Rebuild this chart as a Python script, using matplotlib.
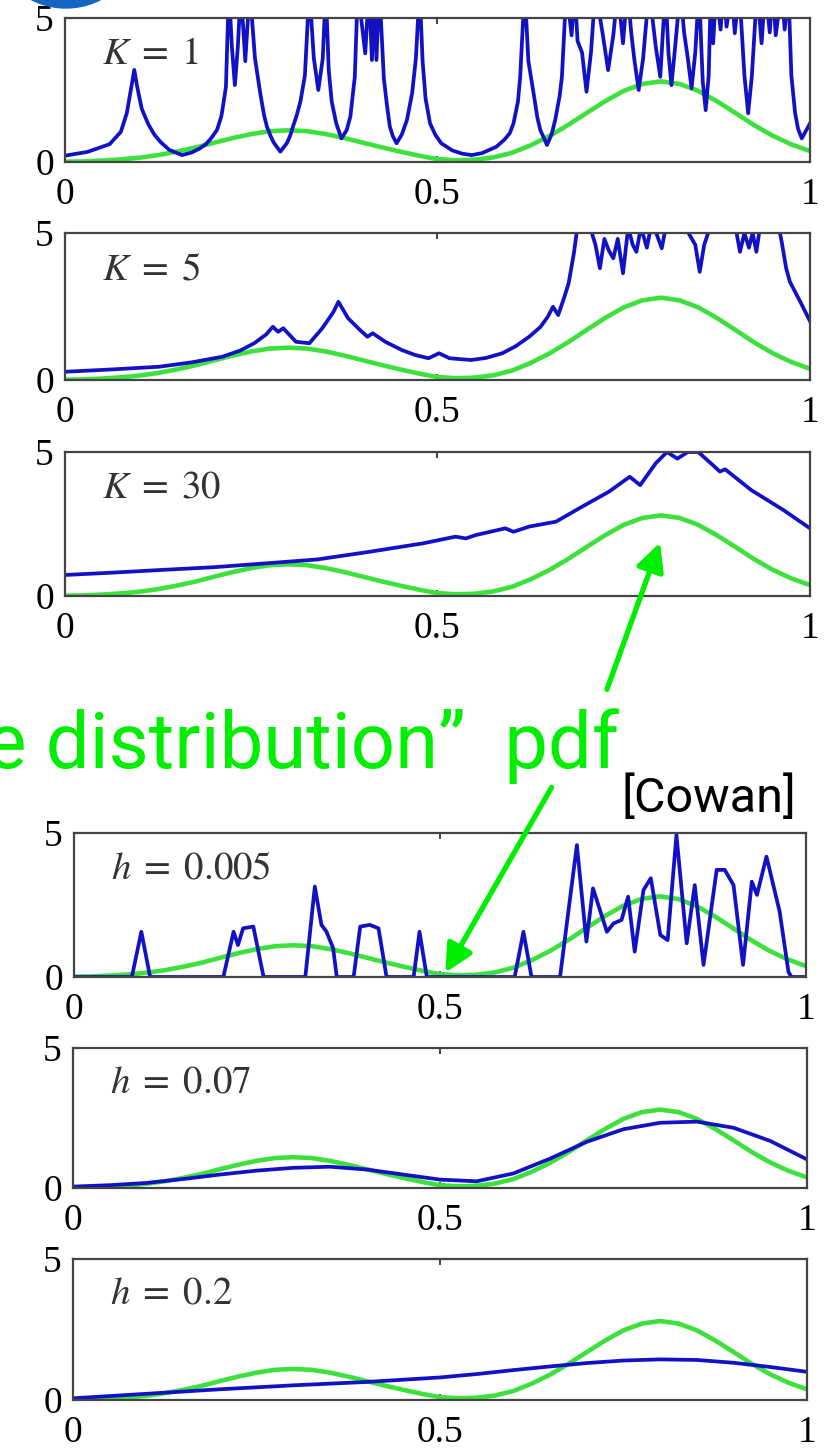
import matplotlib.pyplot as plt
from matplotlib.patches import FancyArrowPatch, Ellipse

plt.rcParams['mathtext.fontset'] = 'stix'
plt.rcParams['font.family'] = ['Liberation Serif', 'DejaVu Serif']

# true distribution (green), same in every panel
true_x = [0.000, 0.025, 0.050, 0.075, 0.100, 0.125, 0.150, 0.175, 0.200, 0.225,
          0.250, 0.275, 0.300, 0.325, 0.350, 0.375, 0.400, 0.425, 0.450, 0.475,
          0.500, 0.525, 0.550, 0.575, 0.600, 0.625, 0.650, 0.675, 0.700, 0.725,
          0.750, 0.775, 0.800, 0.825, 0.850, 0.875, 0.900, 0.925, 0.950, 0.975, 1.000]
true_y = [0.01, 0.02, 0.05, 0.09, 0.15, 0.24, 0.36, 0.50, 0.67, 0.83,
          0.97, 1.07, 1.10, 1.07, 0.97, 0.83, 0.67, 0.51, 0.36, 0.22,
          0.10, 0.06, 0.08, 0.16, 0.32, 0.58, 0.90, 1.28, 1.70, 2.11,
          2.47, 2.71, 2.80, 2.71, 2.47, 2.11, 1.70, 1.28, 0.91, 0.61, 0.38]

# K nearest neighbour estimates
k1_x = [0.000, 0.030, 0.060, 0.075, 0.083, 0.089, 0.093, 0.097, 0.103, 0.112,
        0.120, 0.128, 0.140, 0.157, 0.170, 0.181, 0.190, 0.196, 0.204, 0.210,
        0.216, 0.220, 0.224, 0.228, 0.232, 0.236, 0.242, 0.248, 0.255, 0.262,
        0.267, 0.271, 0.276, 0.280, 0.289, 0.298, 0.302, 0.306, 0.311, 0.316,
        0.322, 0.328, 0.334, 0.340, 0.346, 0.350, 0.354, 0.358, 0.364, 0.371,
        0.378, 0.383, 0.389, 0.393, 0.403, 0.408, 0.412, 0.415, 0.418, 0.422,
        0.428, 0.432, 0.436, 0.440, 0.445, 0.452, 0.459, 0.466, 0.471, 0.476,
        0.480, 0.484, 0.490, 0.497, 0.505, 0.520, 0.533, 0.546, 0.560, 0.579,
        0.590, 0.597, 0.602, 0.608, 0.611, 0.617, 0.622, 0.629, 0.634, 0.638,
        0.647, 0.653, 0.658, 0.664, 0.667, 0.673, 0.680, 0.684, 0.688, 0.694,
        0.700, 0.706, 0.712, 0.722, 0.729, 0.736, 0.742, 0.749, 0.755, 0.760,
        0.764, 0.770, 0.776, 0.784, 0.793, 0.799, 0.806, 0.810, 0.814, 0.819,
        0.826, 0.831, 0.836, 0.841, 0.846, 0.851, 0.856, 0.860, 0.864, 0.867,
        0.870, 0.874, 0.880, 0.884, 0.888, 0.895, 0.899, 0.905, 0.912, 0.917,
        0.922, 0.929, 0.935, 0.940, 0.946, 0.950, 0.954, 0.962, 0.966, 0.971,
        0.975, 0.980, 0.984, 0.989, 1.000]
k1_y = [0.22, 0.35, 0.62, 1.05, 1.70, 2.60, 3.20, 2.60, 1.85, 1.30,
        0.95, 0.70, 0.42, 0.24, 0.33, 0.47, 0.64, 0.82, 1.11, 1.60,
        2.60, 6.00, 4.00, 2.67, 4.00, 6.00, 3.50, 6.00, 3.60, 2.40,
        1.65, 1.23, 0.90, 0.68, 0.36, 0.66, 0.90, 1.23, 1.62, 2.10,
        3.00, 6.00, 3.60, 2.50, 3.60, 6.00, 3.20, 2.10, 1.35, 0.82,
        1.10, 1.57, 2.96, 6.00, 3.77, 6.00, 3.54, 6.00, 3.54, 6.00,
        2.90, 2.00, 1.23, 0.90, 0.65, 0.95, 1.46, 2.40, 3.60, 6.00,
        3.50, 2.20, 1.34, 0.95, 0.65, 0.40, 0.29, 0.24, 0.31, 0.53,
        0.78, 1.00, 1.34, 2.10, 2.96, 6.00, 3.50, 2.38, 1.55, 1.11,
        0.59, 0.95, 1.46, 2.30, 2.96, 6.00, 4.40, 6.00, 4.20, 3.80,
        2.44, 3.80, 6.00, 4.40, 3.19, 4.40, 6.00, 4.12, 6.00, 4.50,
        3.60, 2.50, 3.60, 6.00, 4.00, 2.96, 6.00, 3.80, 2.67, 4.00,
        6.00, 4.50, 3.60, 2.56, 3.80, 6.00, 2.80, 1.80, 3.00, 6.00,
        4.12, 6.00, 4.60, 6.00, 4.70, 6.00, 4.47, 6.00, 3.00, 1.69,
        3.00, 6.00, 4.12, 6.00, 4.50, 6.00, 4.40, 6.00, 4.60, 6.00,
        3.00, 1.70, 1.15, 0.82, 1.34]

k5_x = [0.000, 0.063, 0.126, 0.170, 0.211, 0.235, 0.254, 0.270, 0.279, 0.286,
        0.293, 0.310, 0.328, 0.345, 0.360, 0.367, 0.380, 0.396, 0.406, 0.413,
        0.430, 0.452, 0.470, 0.488, 0.502, 0.516, 0.545, 0.565, 0.587, 0.605,
        0.623, 0.638, 0.648, 0.655, 0.662, 0.670, 0.676, 0.683, 0.690, 0.700,
        0.712, 0.718, 0.724, 0.730, 0.736, 0.742, 0.749, 0.756, 0.762, 0.767,
        0.773, 0.781, 0.788, 0.795, 0.801, 0.808, 0.830, 0.846, 0.852, 0.858,
        0.866, 0.880, 0.900, 0.906, 0.912, 0.918, 0.923, 0.928, 0.934, 0.955,
        0.962, 0.968, 0.973, 0.980, 0.987, 1.000]
k5_y = [0.28, 0.36, 0.45, 0.60, 0.79, 1.00, 1.25, 1.55, 1.81, 1.64,
        1.76, 1.30, 1.25, 1.75, 2.30, 2.66, 2.10, 1.70, 1.47, 1.59,
        1.30, 1.02, 0.85, 0.74, 0.91, 0.74, 0.68, 0.75, 0.91, 1.15,
        1.47, 1.80, 2.15, 2.49, 2.21, 2.80, 3.29, 4.30, 5.60, 5.60,
        4.60, 3.80, 4.80, 4.40, 4.14, 4.80, 3.63, 5.20, 4.60, 4.36,
        5.20, 4.50, 5.40, 4.90, 4.48, 5.40, 5.30, 4.60, 3.68, 4.60,
        5.20, 5.50, 5.20, 4.36, 5.00, 4.50, 5.00, 4.36, 5.40, 5.60,
        4.70, 3.80, 3.34, 3.00, 2.66, 2.00]

k30_x = [0.000, 0.063, 0.126, 0.200, 0.268, 0.339, 0.410, 0.481, 0.524, 0.538,
         0.552, 0.591, 0.602, 0.623, 0.659, 0.694, 0.730, 0.758, 0.772, 0.793,
         0.808, 0.822, 0.836, 0.850, 0.872, 0.879, 0.886, 0.921, 0.964, 1.000]
k30_y = [0.73, 0.81, 0.90, 1.00, 1.13, 1.27, 1.54, 1.83, 2.06, 2.00,
         2.12, 2.35, 2.23, 2.41, 2.58, 3.10, 3.62, 4.14, 3.85, 4.61,
         5.00, 4.77, 5.00, 5.00, 4.49, 4.32, 4.40, 3.68, 2.99, 2.35]

# kernel density estimates
h1_x = [0.000, 0.079, 0.092, 0.104, 0.204, 0.218, 0.224, 0.231, 0.245, 0.259,
        0.316, 0.329, 0.338, 0.345, 0.354, 0.359, 0.382, 0.391, 0.404, 0.416,
        0.427, 0.464, 0.472, 0.482, 0.602, 0.614, 0.625, 0.664, 0.673, 0.687,
        0.700, 0.709, 0.728, 0.737, 0.748, 0.757, 0.766, 0.778, 0.788, 0.801,
        0.811, 0.823, 0.837, 0.848, 0.860, 0.878, 0.889, 0.901, 0.914, 0.926,
        0.933, 0.946, 0.964, 0.976, 0.980, 1.000]
h1_y = [0.00, 0.00, 1.57, 0.00, 0.00, 1.57, 1.11, 1.69, 1.75, 0.00,
        0.00, 3.14, 1.81, 1.57, 1.00, 0.00, 0.00, 1.75, 1.81, 1.69,
        0.00, 0.00, 1.57, 0.00, 0.00, 1.57, 0.00, 0.00, 1.81, 4.58,
        1.23, 3.08, 1.57, 1.86, 1.98, 2.79, 0.88, 3.02, 3.43, 1.46,
        1.28, 4.93, 1.17, 3.19, 0.42, 3.72, 3.72, 3.19, 0.42, 3.31,
        2.85, 4.18, 2.27, 0.18, 0.00, 0.00]

h2_x = [0.00, 0.05, 0.10, 0.15, 0.20, 0.25, 0.30, 0.35, 0.40, 0.45, 0.50,
        0.55, 0.60, 0.65, 0.70, 0.75, 0.80, 0.85, 0.90, 0.95, 1.00]
h2_y = [0.05, 0.10, 0.18, 0.32, 0.48, 0.62, 0.72, 0.76, 0.66, 0.48, 0.30,
        0.24, 0.52, 1.05, 1.65, 2.10, 2.33, 2.37, 2.15, 1.68, 1.02]

h3_x = [0.00, 0.05, 0.10, 0.15, 0.20, 0.25, 0.30, 0.35, 0.40, 0.45, 0.50,
        0.55, 0.60, 0.65, 0.70, 0.75, 0.80, 0.85, 0.90, 0.95, 1.00]
h3_y = [0.06, 0.14, 0.22, 0.30, 0.38, 0.45, 0.52, 0.58, 0.64, 0.72, 0.80,
        0.92, 1.06, 1.19, 1.31, 1.40, 1.44, 1.42, 1.32, 1.17, 1.00]

labels = [r'$K\;=\;1$', r'$K\;=\;5$', r'$K\;=\;30$',
          r'$h\;=\;0.005$', r'$h\;=\;0.07$', r'$h\;=\;0.2$']
blue_x = [k1_x, k5_x, k30_x, h1_x, h2_x, h3_x]
blue_y = [k1_y, k5_y, k30_y, h1_y, h2_y, h3_y]

W, H = 829, 1451
# axes boxes in pixels: left, top, right, bottom
boxes = [(65, 18, 810, 162), (65, 233, 810, 380), (65, 452, 810, 596),
         (74, 833, 806, 977), (73, 1048, 807, 1188), (73, 1259, 807, 1400)]

fig = plt.figure(figsize=(W / 100, H / 100), dpi=100)

for i in range(6):
    l, t, r, b = boxes[i]
    ax = fig.add_axes([l / W, 1 - b / H, (r - l) / W, (b - t) / H])
    ax.plot(true_x, true_y, color='#3ee03e', lw=3.3, solid_capstyle='round')
    ax.plot(blue_x[i], blue_y[i], color='#1212c4', lw=2.7, solid_joinstyle='round')
    ax.set_xlim(0, 1)
    ax.set_ylim(0, 5)
    ax.set_xticks([0, 0.5, 1])
    ax.set_xticklabels(['0', '0.5', '1'])
    ax.set_yticks([0, 5])
    ax.set_yticklabels(['0', '5'])
    ax.tick_params(direction='in', top=True, right=True, length=4, width=1.2,
                   labelsize=27, pad=8, color='#222222')
    ax.tick_params(axis='x', pad=11)
    for s in ax.spines.values():
        s.set_linewidth(1.6)
        s.set_color('#444444')
    ax.text(0.05, 3.75, labels[i], fontsize=28, va='center', color='#333333')

# blue badge cut off at the top left
fig.add_artist(Ellipse((66 / W, 1 + 68 / H), 152 / W, 152 / H,
                       transform=fig.transFigure, color='#1565c0'))

fig.text(619 / W, 1 - 768 / H, '\u201ctrue distribution\u201d  pdf',
         fontsize=56, color='#00ee00', ha='right', va='baseline',
         family=['Roboto', 'DejaVu Sans'])
fig.text(796 / W, 1 - 812 / H, '[Cowan]', fontsize=35, color='black',
         ha='right', va='baseline', family=['Roboto', 'DejaVu Sans'])

arrows = [((606, 692), (661, 540)), ((553, 785), (444, 975))]
for tail, head in arrows:
    arr = FancyArrowPatch((tail[0] / W, 1 - tail[1] / H), (head[0] / W, 1 - head[1] / H),
                          transform=fig.transFigure, arrowstyle='-|>',
                          mutation_scale=42, lw=3.8, color='#00ee00')
    fig.add_artist(arr)

fig.savefig('out.png', dpi=100)
